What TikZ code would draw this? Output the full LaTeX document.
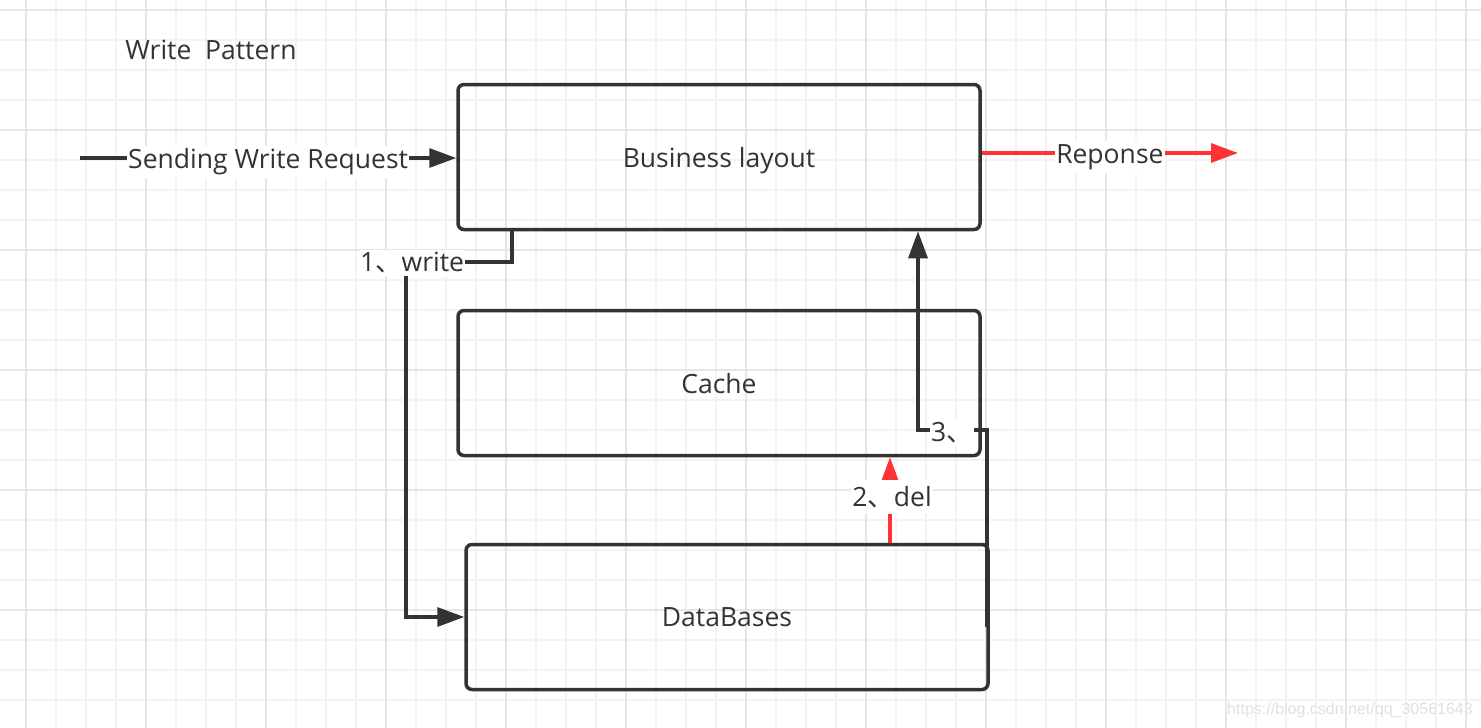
\documentclass[tikz,border=0pt]{standalone}
\usepackage{fontspec}
\setmainfont{Open Sans}
\newfontfamily\cjk{Noto Sans CJK SC}
\newfontfamily\wmfont{Liberation Sans}
\usetikzlibrary{arrows.meta}
\definecolor{ink}{HTML}{333333}
\definecolor{redline}{HTML}{FF3333}
\definecolor{gridminor}{HTML}{F3F3F3}
\definecolor{gridmajor}{HTML}{E6E6E6}
\tikzset{
  box/.style={draw=ink, line width=3.5pt, rounded corners=6pt, minimum width=522pt,
    minimum height=145pt, text=ink, font=\fontsize{26.5}{30}\selectfont, inner sep=0pt,
    text depth=0pt},
  conn/.style={draw=ink, line width=3.2pt, -{Triangle[length=27pt,width=19pt]}},
  redconn/.style={draw=redline, line width=3.2pt, -{Triangle[length=27pt,width=19pt]}},
  lab/.style={fill=white, text=ink, font=\fontsize{26.5}{30}\selectfont, inner xsep=1pt, inner ysep=3pt},
  minorgrid/.style={draw=gridminor, line width=1.3pt},
  majorgrid/.style={draw=gridmajor, line width=1.5pt},
}
\begin{document}
\begin{tikzpicture}[x=1pt, y=-1pt]
\useasboundingbox (0,0) rectangle (1481,728);
\fill[white] (0,0) rectangle (1481,728);
% grid
\foreach \x in {26,56,...,1466} \draw[minorgrid] (\x,0) -- (\x,728);
\foreach \y in {10,40,...,718} \draw[minorgrid] (0,\y) -- (1481,\y);
\foreach \x in {26,146,...,1466} \draw[majorgrid] (\x,0) -- (\x,728);
\foreach \y in {10,130,...,718} \draw[majorgrid] (0,\y) -- (1481,\y);

% title
\node[lab, fill=none] (title) at (211,50) {Write\ \ Pattern};

% boxes
\node[box] (bl) at (719,157) {Business layout};
\node[box] (cache) at (719,383) {Cache};
\node[box] (db) at (727,617) {DataBases};

% sending write request
\coordinate (s) at (80,158);
\draw[conn] (s) -- (s -| bl.west) node[lab, midway, yshift=-4pt] (sendlab) {Sending Write Request};

% response
\coordinate (r) at (1238,153);
\draw[redconn] (bl.east |- r) -- (r) node[lab, midway, yshift=-4pt] (replab) {Reponse};

% 1 write
\coordinate (w1) at (512,262);
\coordinate (c1) at (406,262);
\draw[conn] (bl.south -| w1) |- (c1) |- (db.west);
\node[lab] (writelab) at (412,263) {1{\cjk 、}write};

% 2 del
\coordinate (d2) at (890,500);
\draw[redconn] (db.north -| d2) -- (cache.south -| d2);
\node[lab, inner ysep=6pt] (dellab) at (892,497) {2{\cjk 、}del};

% 3
\coordinate (c3a) at (987,627);
\coordinate (c3b) at (918,430);
\draw[conn] (c3a) |- (c3b) -- (c3b |- bl.south);
\node[lab] (threelab) at (952,433) {3{\cjk 、}};

% watermark
\node[text=black!12, font=\wmfont\fontsize{16}{18}\selectfont, inner sep=0pt] (wm) at (1350,710) {https://blog.csdn.net/qq\_30561643};
\end{tikzpicture}
\end{document}
